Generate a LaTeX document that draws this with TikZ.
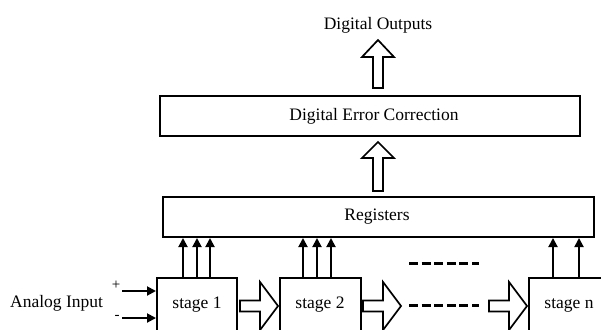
\documentclass[tikz,border=0pt]{standalone}
\usepackage{fontspec}
\setmainfont{Liberation Serif}
\usetikzlibrary{arrows.meta}
\tikzset{
  blk/.style={draw, line width=1.9pt, fill=white},
  lbl/.style={font=\fontsize{17.5}{20}\selectfont, inner sep=0pt},
  sgn/.style={font=\fontsize{15}{17}\selectfont, inner sep=0pt},
  wire/.style={line width=1.9pt, -{Triangle[length=9pt,width=9pt]}},
  hollow/.style={draw, line width=1.7pt, fill=white, line join=miter},
  dots/.style={line width=3pt, dash pattern=on 9pt off 3.6pt}
}
\begin{document}
\begin{tikzpicture}[x=1pt,y=-1pt]
\useasboundingbox (0,0) rectangle (601,329);

% processing blocks
\draw[blk] (160,96) rectangle (580,136);
\node[lbl] (dec) at (374,116) {Digital Error Correction};
\draw[blk] (163,197) rectangle (594,237);
\node[lbl] (reg) at (377,217) {Registers};
\draw[blk] (157,278) rectangle (237,340);
\node[lbl] (s1) at (197,305) {stage 1};
\draw[blk] (280,278) rectangle (361,340);
\node[lbl] (s2) at (320,305) {stage 2};
\draw[blk] (529,278) rectangle (612,340);
\node[lbl] (sn) at (569,305) {stage n};

\node[lbl] (out) at (378,25) {Digital Outputs};
\node[lbl, anchor=west] (ain) at (10,303) {Analog Input};
\node[sgn] (plus) at (116,285) {+};
\node[sgn] (minus) at (117,317) {-};

% wide bus arrows pointing up
\draw[hollow] (373,88) -- (373,57) -- (362,57) -- (378,40) -- (394,57) -- (383,57) -- (383,88) -- cycle;
\draw[hollow] (373,191) -- (373,158) -- (362,158) -- (378,142) -- (394,158) -- (383,158) -- (383,191) -- cycle;

% wide bus arrows between stages
\foreach \xa in {240,363,489}{
  \draw[hollow] (\xa,300.5) -- (\xa+20,300.5) -- (\xa+20,282) -- (\xa+38,306) -- (\xa+20,330) -- (\xa+20,311.5) -- (\xa,311.5) -- cycle;
}

% stage outputs into the registers
\foreach \xb in {183,197,210,303,317,331,553,579}{
  \coordinate (b\xb) at (\xb,278);
  \draw[wire] (b\xb) -- (\xb,238);
}

% differential input
\coordinate (ip) at (122,291);
\coordinate (im) at (122,318);
\draw[wire] (ip) -- (156,291);
\draw[wire] (im) -- (156,318);

% elided stages
\draw[dots] (409,263) -- (479,263);
\draw[dots] (409,305) -- (479,305);
\end{tikzpicture}
\end{document}
